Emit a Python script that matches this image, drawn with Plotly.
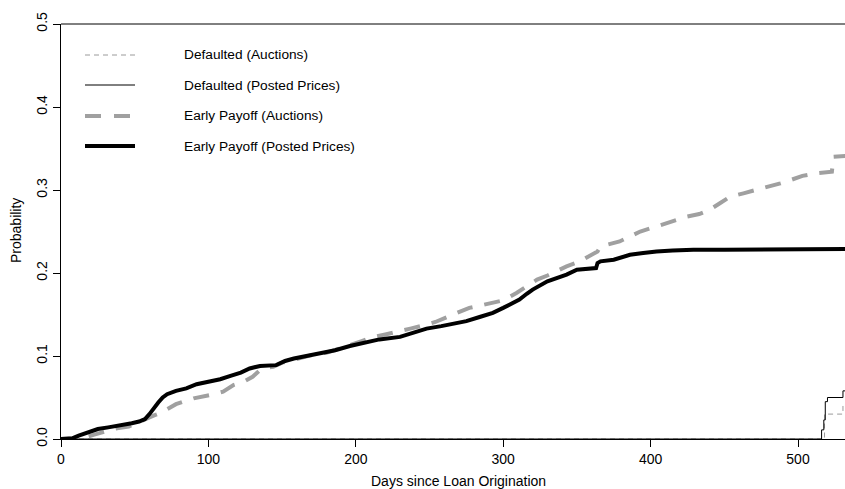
import plotly.graph_objects as go

# ---- data ----
pp_pay_days = [0, 8, 12, 18, 25, 32, 40, 48, 53, 57, 60, 63, 66, 69, 72, 78, 85, 92, 100, 108,
               115, 122, 128, 135, 146, 152, 158, 166, 176, 186, 196, 206, 216, 230, 240, 248,
               258, 268, 275, 284, 293, 300, 307, 311, 316, 320, 330, 343, 350, 363, 364, 366,
               375, 386, 395, 404, 415, 429, 450, 480, 532]
pp_pay_prob = [0, 0.001, 0.004, 0.008, 0.012, 0.014, 0.016, 0.019, 0.021, 0.024, 0.030, 0.038,
               0.044, 0.050, 0.054, 0.058, 0.061, 0.066, 0.069, 0.072, 0.076, 0.080, 0.085,
               0.088, 0.089, 0.094, 0.097, 0.100, 0.103, 0.107, 0.112, 0.116, 0.120, 0.123,
               0.128, 0.133, 0.136, 0.139, 0.142, 0.147, 0.152, 0.158, 0.165, 0.168, 0.175,
               0.180, 0.190, 0.198, 0.204, 0.206, 0.212, 0.214, 0.216, 0.222, 0.224, 0.226,
               0.227, 0.228, 0.228, 0.228, 0.229]

au_pay_days = [0, 15, 22, 30, 38, 46, 54, 60, 64, 67, 72, 78, 83, 90, 101, 110, 117, 124, 130,
               135, 140, 144, 150, 160, 170, 180, 190, 196, 204, 212, 220, 228, 237, 246, 254,
               262, 270, 277, 285, 293, 300, 309, 316, 323, 330, 336, 343, 352, 358, 364, 366,
               372, 379, 386, 393, 402, 411, 418, 425, 433, 440, 447, 454, 463, 472, 480, 488,
               495, 503, 512, 520, 523, 524, 532]
au_pay_prob = [0, 0.001, 0.005, 0.009, 0.013, 0.015, 0.022, 0.026, 0.029, 0.031, 0.036, 0.042,
               0.045, 0.049, 0.053, 0.057, 0.065, 0.069, 0.075, 0.083, 0.086, 0.087, 0.092,
               0.097, 0.101, 0.104, 0.109, 0.113, 0.118, 0.123, 0.126, 0.129, 0.133, 0.137,
               0.141, 0.147, 0.153, 0.158, 0.161, 0.164, 0.167, 0.176, 0.184, 0.192, 0.197,
               0.202, 0.208, 0.214, 0.220, 0.226, 0.232, 0.235, 0.238, 0.244, 0.250, 0.255,
               0.260, 0.264, 0.268, 0.271, 0.276, 0.284, 0.292, 0.296, 0.300, 0.304, 0.308,
               0.312, 0.317, 0.320, 0.321, 0.322, 0.340, 0.341]

pp_def_days = [0, 516, 517.5, 518.5, 520, 530.5, 532]
pp_def_prob = [0, 0.011, 0.023, 0.045, 0.050, 0.058, 0.058]

au_def_days = [0, 518, 530.5, 532]
au_def_prob = [0, 0.030, 0.041, 0.041]

x_ticks = [0, 100, 200, 300, 400, 500]
y_ticks = [0.0, 0.1, 0.2, 0.3, 0.4, 0.5]
y_tick_labels = ["0.0", "0.1", "0.2", "0.3", "0.4", "0.5"]

legend_labels = ["Defaulted (Auctions)", "Defaulted (Posted Prices)",
                 "Early Payoff (Auctions)", "Early Payoff (Posted Prices)"]

GRAY = "#a0a0a0"
LGRAY = "#9a9a9a"
FONT = "Liberation Sans, Arial, Helvetica, sans-serif"

fig = go.Figure()
fig.add_trace(go.Scatter(x=au_def_days, y=au_def_prob, mode="lines", line_shape="hv",
                         line=dict(color=LGRAY, width=1, dash="5px,4px"), name=legend_labels[0]))
fig.add_trace(go.Scatter(x=pp_def_days, y=pp_def_prob, mode="lines", line_shape="hv",
                         line=dict(color="black", width=1), name=legend_labels[1]))
fig.add_trace(go.Scatter(x=au_pay_days, y=au_pay_prob, mode="lines",
                         line=dict(color=GRAY, width=4, dash="16px,12px"), name=legend_labels[2]))
fig.add_trace(go.Scatter(x=pp_pay_days, y=pp_pay_prob, mode="lines",
                         line=dict(color="black", width=4), name=legend_labels[3]))

W, H = 845, 489
L, R, T, B = 61, 0, 24, 50
pw, ph = W - L - R, H - T - B

def px(xp):
    return (xp - L) / pw

def py(yp):
    return (H - B - yp) / ph

shapes = [
    dict(type="line", xref="paper", yref="paper", x0=0, x1=1, y0=1, y1=1,
         line=dict(color="black", width=1)),
]
legend_styles = [
    dict(color=LGRAY, width=1, dash="5px,4px"),
    dict(color="black", width=1),
    dict(color=GRAY, width=4, dash="16px,13px"),
    dict(color="black", width=4),
]
rows = [55, 85, 116, 146]
annotations = []
for lab, sty, r in zip(legend_labels, legend_styles, rows):
    shapes.append(dict(type="line", xref="paper", yref="paper", x0=px(85), x1=px(135),
                       y0=py(r), y1=py(r), line=sty))
    annotations.append(dict(text=lab, xref="paper", yref="paper", x=px(182), y=py(r),
                            xanchor="left", yanchor="middle", showarrow=False,
                            font=dict(size=13.7, color="black", family=FONT)))

annotations.append(dict(text="Days since Loan Origination", xref="paper", yref="paper",
                        x=px(458), y=py(481), xanchor="center", yanchor="middle",
                        showarrow=False, font=dict(size=14, color="black", family=FONT)))
annotations.append(dict(text="Probability", xref="paper", yref="paper",
                        x=px(16), y=py(231), xanchor="center", yanchor="middle", textangle=-90,
                        showarrow=False, font=dict(size=14, color="black", family=FONT)))

fig.update_layout(
    width=W, height=H,
    margin=dict(l=L, r=R, t=T, b=B, pad=0),
    paper_bgcolor="white", plot_bgcolor="white",
    showlegend=False,
    font=dict(family=FONT, size=14, color="black"),
    shapes=shapes, annotations=annotations,
    xaxis=dict(range=[0, pw / 1.474], tickvals=x_ticks, ticks="outside", ticklen=7,
               tickcolor="black", showline=True, linecolor="black", linewidth=1,
               showgrid=False, zeroline=False, automargin=False,
               tickfont=dict(size=14, family=FONT)),
    yaxis=dict(range=[0, 0.5], tickvals=y_ticks, ticktext=y_tick_labels, tickangle=-90,
               ticks="outside", ticklen=7, tickcolor="black", showline=True,
               linecolor="black", linewidth=1, showgrid=False, zeroline=False,
               automargin=False, tickfont=dict(size=14, family=FONT)),
)

fig.write_html("out.html")
